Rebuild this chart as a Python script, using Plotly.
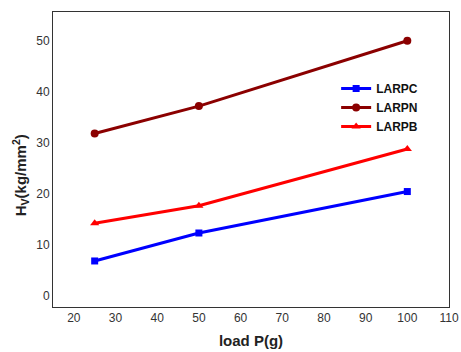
import plotly.graph_objects as go

loads = [25, 50, 100]
larpc = [6.75, 12.25, 20.4]
larpn = [31.8, 37.2, 50.05]
larpb = [14.15, 17.6, 28.75]
x_ticks = [20, 30, 40, 50, 60, 70, 80, 90, 100, 110]
y_ticks = [0, 10, 20, 30, 40, 50]

fig = go.Figure()
fig.add_trace(go.Scatter(x=loads, y=larpc, name="<b>LARPC</b>", mode="lines+markers",
                         line=dict(color="#0000ff", width=3),
                         marker=dict(symbol="square", size=7, color="#0000ff")))
fig.add_trace(go.Scatter(x=loads, y=larpn, name="<b>LARPN</b>", mode="lines+markers",
                         line=dict(color="#8b0000", width=3),
                         marker=dict(symbol="circle", size=8, color="#8b0000")))
fig.add_trace(go.Scatter(x=loads, y=larpb, name="<b>LARPB</b>", mode="lines+markers",
                         line=dict(color="#ff0000", width=3),
                         marker=dict(symbol="triangle-up", size=8, color="#ff0000")))

fig.update_layout(
    width=461, height=352,
    margin=dict(l=53, r=12, t=12, b=45, autoexpand=False),
    paper_bgcolor="white", plot_bgcolor="white",
    font=dict(family="Arial, Liberation Sans, sans-serif", size=12, color="#333333"),
    legend=dict(x=0.715, y=0.79, xanchor="left", yanchor="top",
                bgcolor="rgba(0,0,0,0)", font=dict(size=12, color="#111111", family="Arial, Liberation Sans, sans-serif"),
                itemwidth=30, tracegroupgap=0),
    showlegend=True,
)
fig.update_xaxes(range=[15, 110], tickvals=x_ticks, showgrid=False, zeroline=False, automargin=False,
                 showline=True, linecolor="#333333", linewidth=1, mirror=True, ticks="",
                 title=dict(text="<b>load P(g)</b>", font=dict(size=15, color="#222222"), standoff=11))
fig.update_yaxes(range=[-2.3, 55.7], tickvals=y_ticks, showgrid=False, zeroline=False, automargin=False,
                 showline=True, linecolor="#333333", linewidth=1, mirror=True, ticks="")
fig.add_annotation(text="<b>H<sub>V</sub>(kg/mm<sup>2</sup>)</b>", textangle=-90,
                   xref="paper", yref="paper", x=-0.083, y=0.447,
                   xanchor="center", yanchor="middle", showarrow=False,
                   font=dict(size=15, color="#222222"))

fig.write_html("out.html", config={"displayModeBar": False},
               post_script="document.body.style.margin='0';")
